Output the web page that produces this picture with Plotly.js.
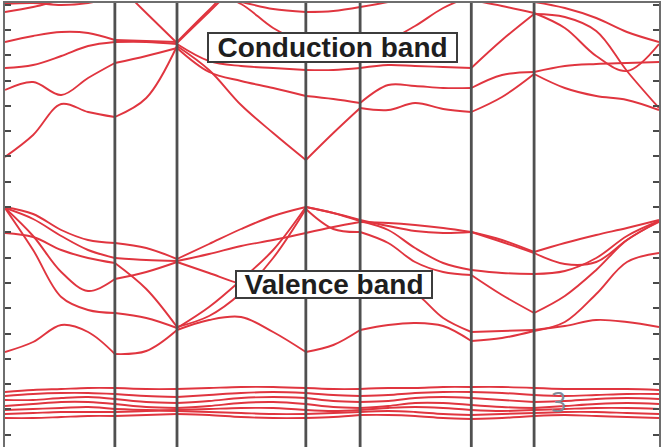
<!DOCTYPE html>
<html>
<head>
<meta charset="utf-8">
<script src="https://cdn.plot.ly/plotly-3.0.1.min.js"></script>
<style>
  html, body { margin: 0; padding: 0; background: #ffffff; overflow: hidden; }
  #chart { width: 663px; height: 460px; }
</style>
</head>
<body>
<div id="chart"></div>
<script>
// Sampling positions along the k-path (fraction of total path length)
const kGrid = [0, 0.043, 0.086, 0.127, 0.168, 0.216, 0.263, 0.312, 0.361, 0.410, 0.460,
               0.502, 0.543, 0.586, 0.627, 0.670, 0.713, 0.760, 0.809, 0.856, 0.904, 0.951, 1.0];

// High-symmetry points along the path (vertical separators)
const kPoints = [0.168, 0.263, 0.460, 0.543, 0.713, 0.809];

// Conduction bands, energy in eV on kGrid
const conductionBands = [
  [1.00, 1.44, 2.06, 1.90, 1.80, 2.18, 3.22, 2.74, 2.04, 1.48, 0.94, 1.48, 1.98, 1.94, 2.08, 1.96, 1.90, 2.20, 2.66, 2.38, 2.22, 2.14, 1.94],
  [2.34, 2.50, 2.24, 2.58, 2.88, 3.02, 3.18, 2.70, 2.52, 2.38, 2.22, 2.16, 2.08, 2.44, 2.42, 2.38, 2.38, 2.64, 2.70, 2.82, 2.86, 2.88, 2.90],
  [2.78, 2.84, 3.02, 3.22, 3.30, 3.30, 3.26, 2.92, 2.82, 2.78, 2.74, 2.74, 2.78, 2.84, 2.82, 2.80, 2.78, 3.34, 3.86, 3.80, 3.52, 2.72, 1.98],
  [3.30, 3.42, 3.50, 3.48, 3.34, 3.32, 3.30, 3.94, 4.54, 4.74, 4.74, 4.74, 4.74, 4.74, 4.54, 4.30, 4.14, 4.02, 3.88, 3.58, 3.02, 2.72, 3.26],
  [3.90, 4.00, 4.14, 4.26, 4.34, 4.34, 4.30, 4.22, 4.10, 3.96, 3.90, 3.92, 4.00, 4.10, 4.22, 4.30, 4.30, 4.22, 4.10, 3.98, 3.78, 3.50, 3.30],
  [4.06, 4.08, 4.04, 4.08, 4.20, 4.34, 4.38, 4.30, 4.06, 3.58, 3.26, 3.18, 3.22, 3.34, 3.62, 3.98, 4.22, 4.34, 4.34, 4.34, 4.34, 4.34, 4.34],
  [4.90, 4.90, 4.90, 4.70, 4.50, 3.88, 3.28, 3.90, 4.50, 4.90, 4.90, 4.90, 4.90, 4.90, 4.90, 4.90, 4.90, 4.90, 4.90, 4.90, 4.90, 4.90, 4.90]
];

// Valence bands, energy in eV on kGrid
const valenceBands = [
  [0.00, -0.14, -0.46, -0.66, -0.72, -0.82, -1.04, -0.74, -0.44, -0.18, 0.00, -0.12, -0.26, -0.38, -0.48, -0.52, -0.50, -0.66, -0.90, -0.72, -0.56, -0.42, -0.26],
  [-0.02, -0.24, -0.58, -0.86, -1.02, -1.06, -1.08, -0.94, -0.78, -0.66, -0.52, -0.40, -0.30, -0.32, -0.36, -0.42, -0.50, -0.70, -0.92, -1.14, -1.10, -0.66, -0.28],
  [-0.02, -0.58, -1.30, -1.68, -1.44, -1.30, -1.10, -1.32, -1.54, -1.66, -1.66, -1.58, -1.46, -1.52, -1.72, -2.22, -2.50, -2.48, -2.46, -2.38, -2.26, -2.30, -2.40],
  [-0.02, -0.86, -1.80, -2.06, -2.12, -2.22, -2.42, -2.00, -1.46, -0.86, 0.00, -0.12, -0.28, -0.46, -0.82, -1.12, -1.26, -1.32, -1.34, -1.28, -1.02, -0.58, -0.28],
  [-0.52, -0.60, -0.86, -1.02, -1.12, -1.64, -2.40, -2.18, -1.72, -1.02, -0.04, -0.44, -0.50, -0.72, -1.10, -1.30, -1.36, -1.76, -2.12, -1.78, -1.26, -0.66, -0.30],
  [-2.90, -2.70, -2.36, -2.50, -2.94, -2.88, -2.46, -2.26, -2.20, -2.50, -2.90, -2.76, -2.46, -2.36, -2.32, -2.38, -2.68, -2.62, -2.48, -2.30, -1.74, -1.10, -0.92]
];

// Narrow semi-core band group, energy in eV on kGrid
const coreBands = [
  [-3.70, -3.66, -3.64, -3.62, -3.62, -3.64, -3.64, -3.62, -3.60, -3.60, -3.62, -3.64, -3.64, -3.62, -3.62, -3.60, -3.60, -3.60, -3.62, -3.64, -3.64, -3.64, -3.66],
  [-3.78, -3.74, -3.72, -3.72, -3.74, -3.78, -3.80, -3.76, -3.72, -3.70, -3.72, -3.76, -3.78, -3.76, -3.72, -3.70, -3.70, -3.72, -3.76, -3.78, -3.76, -3.74, -3.74],
  [-3.86, -3.86, -3.82, -3.80, -3.84, -3.90, -3.92, -3.88, -3.82, -3.80, -3.82, -3.88, -3.90, -3.88, -3.82, -3.80, -3.82, -3.86, -3.90, -3.88, -3.84, -3.82, -3.84],
  [-3.98, -3.94, -3.90, -3.90, -3.94, -4.00, -4.02, -3.98, -3.92, -3.90, -3.94, -4.00, -4.02, -3.98, -3.92, -3.92, -3.96, -4.00, -4.02, -3.98, -3.94, -3.92, -3.94],
  [-4.06, -4.04, -4.02, -4.00, -4.04, -4.06, -4.06, -4.04, -4.02, -4.02, -4.06, -4.08, -4.06, -4.02, -4.00, -4.02, -4.06, -4.08, -4.06, -4.04, -4.02, -4.02, -4.04],
  [-4.14, -4.12, -4.10, -4.10, -4.10, -4.08, -4.08, -4.10, -4.12, -4.14, -4.14, -4.12, -4.10, -4.08, -4.10, -4.14, -4.16, -4.14, -4.12, -4.10, -4.10, -4.12, -4.14],
  [-4.22, -4.22, -4.20, -4.18, -4.18, -4.16, -4.14, -4.16, -4.20, -4.22, -4.22, -4.20, -4.16, -4.16, -4.18, -4.22, -4.24, -4.22, -4.18, -4.16, -4.18, -4.20, -4.22]
];

const bandLabels = ['Conduction band', 'Valence band'];

const bandColor = '#e0353f';

// Split a band at the high-symmetry points so each k-path segment is smoothed on its own
function bandTrace(values) {
  const xs = [], ys = [];
  const cuts = kGrid.map((k, i) => (i > 0 && kPoints.includes(k)) ? i : -1).filter(i => i > 0);
  cuts.push(kGrid.length - 1);
  let start = 0;
  cuts.forEach(end => {
    for (let i = start; i <= end; i++) { xs.push(kGrid[i]); ys.push(values[i]); }
    xs.push(null); ys.push(null);
    start = end;
  });
  return {
    x: xs, y: ys, type: 'scatter', mode: 'lines',
    line: { color: bandColor, width: 1.9, shape: 'spline', smoothing: 1 },
    connectgaps: false, hoverinfo: 'skip', showlegend: false
  };
}

const traces = [...conductionBands, ...valenceBands, ...coreBands].map(bandTrace);

const shapes = kPoints.map(k => ({
  type: 'line', xref: 'x', yref: 'paper', x0: k, x1: k, y0: 0, y1: 1,
  line: { color: '#505050', width: 2.8 }
}));

const boxFont = { family: 'Liberation Sans, Arial, sans-serif', size: 28, color: '#1e1e1e' };

const annotations = [
  { text: '<b>' + bandLabels[0] + '</b>', xref: 'paper', yref: 'paper', x: 0.5008, y: 0.9022,
    xanchor: 'center', yanchor: 'middle', showarrow: false, font: boxFont,
    bgcolor: '#ffffff', bordercolor: '#3c3c3c', borderwidth: 2, borderpad: 0, width: 247, height: 27 },
  { text: '<b>' + bandLabels[1] + '</b>', xref: 'paper', yref: 'paper', x: 0.5031, y: 0.3824,
    xanchor: 'center', yanchor: 'middle', showarrow: false, font: boxFont,
    bgcolor: '#ffffff', bordercolor: '#3c3c3c', borderwidth: 2, borderpad: 0, width: 194, height: 25 },
  { text: '3', xref: 'paper', yref: 'paper', x: 0.8456, y: 0.1231,
    xanchor: 'center', yanchor: 'middle', showarrow: false,
    font: { family: 'Open Sans, sans-serif', size: 27, color: '#7d8b99' } }
];

const layout = {
  width: 663, height: 460,
  margin: { l: 5, r: 4, t: 3, b: 2 },
  paper_bgcolor: '#ffffff', plot_bgcolor: '#ffffff',
  showlegend: false,
  xaxis: {
    range: [0, 1], showgrid: false, zeroline: false, showticklabels: false, ticks: '',
    showline: true, linecolor: '#6e6e6e', linewidth: 2, mirror: true, fixedrange: true
  },
  yaxis: {
    range: [-5.02, 4.08], showgrid: false, zeroline: false, showticklabels: false,
    ticks: 'inside', ticklen: 6, tickwidth: 2, tickcolor: '#4a4a4a', tick0: 0, dtick: 0.506,
    showline: true, linecolor: '#6e6e6e', linewidth: 2, mirror: 'ticks', fixedrange: true
  },
  shapes: shapes,
  annotations: annotations
};

Plotly.newPlot('chart', traces, layout, { displayModeBar: false, staticPlot: true });
</script>
</body>
</html>
